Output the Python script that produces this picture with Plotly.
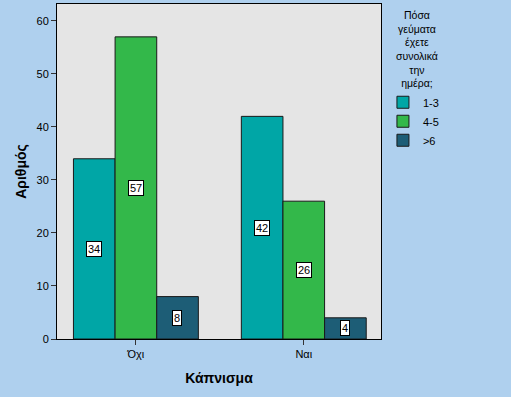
import plotly.graph_objects as go

categories = ["Όχι", "Ναι"]
series_names = ["1-3", "4-5", ">6"]
values_13 = [34, 42]
values_45 = [57, 26]
values_6 = [8, 4]
colors = ["#00A6A6", "#33B84A", "#1D5D76"]

all_values = [values_13, values_45, values_6]

fig = go.Figure()
for name, vals, col in zip(series_names, all_values, colors):
    fig.add_trace(go.Bar(
        x=categories, y=vals, name=name,
        marker=dict(color=col, line=dict(color="#1a1a1a", width=1)),
    ))

# value labels in white boxes at mid-height of each bar
bar_px = 41.5
for i, vals in enumerate(all_values):
    for cat, v in zip(categories, vals):
        fig.add_annotation(
            x=cat, y=v / 2, xref="x", yref="y", text=str(v),
            showarrow=False, xshift=(i - 1) * bar_px,
            font=dict(family="Arial", size=11, color="black"),
            bgcolor="white", bordercolor="black", borderwidth=1, borderpad=1,
        )

fig.add_annotation(
    xref="paper", yref="paper", x=1.111, y=0.992, xanchor="center", yanchor="top",
    text="Πόσα<br>γεύματα<br>έχετε<br>συνολικά<br>την<br>ημέρα;",
    showarrow=False, align="center",
    font=dict(family="Arial", size=10.5, color="black"),
)

fig.update_layout(
    width=511, height=397,
    margin=dict(l=57, r=130, t=4, b=58, autoexpand=False),
    paper_bgcolor="#AFD0EE", plot_bgcolor="#E5E5E5",
    barmode="group", bargap=0.256, bargroupgap=0,
    font=dict(family="Arial", size=11, color="black"),
    legend=dict(x=1.006, y=0.75, xanchor="left", yanchor="top",
                font=dict(size=11), itemwidth=30, tracegroupgap=0,
                bgcolor="rgba(0,0,0,0)"),
    showlegend=True,
)
fig.update_xaxes(
    range=[-0.47, 1.46], showline=True, linecolor="black", linewidth=1, mirror=True,
    ticks="outside", ticklen=5, tickcolor="#333", showgrid=False, automargin=False,
    title=dict(text="<b>Κάπνισμα</b>", font=dict(size=14), standoff=13),
)
fig.update_yaxes(
    range=[0, 63.2], dtick=10, showline=True, linecolor="black", linewidth=1, mirror=True,
    ticks="outside", ticklen=5, tickcolor="#333", showgrid=False, zeroline=False,
    automargin=False,
    title=dict(text="<b>Αριθμός</b>", font=dict(size=14), standoff=6),
)

fig.write_html(
    "out.html",
    config={"displayModeBar": False},
    post_script="document.body.style.margin='0';document.body.style.overflow='hidden';",
)
